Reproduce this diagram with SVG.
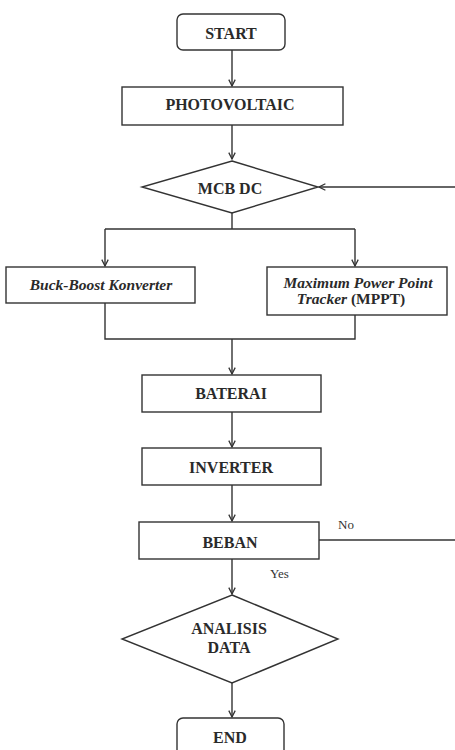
<svg xmlns="http://www.w3.org/2000/svg" width="455" height="750" viewBox="0 0 455 750">
<style>
.box{fill:#fff;stroke:#333;stroke-width:1.4}
.ln{fill:none;stroke:#333;stroke-width:1.4}
.t{font-family:"Liberation Serif","Times New Roman",serif;font-size:16px;font-weight:bold;fill:#2a2a2a;text-anchor:middle;dominant-baseline:central}
.ti{font-family:"Liberation Serif","Times New Roman",serif;font-size:15.5px;font-weight:bold;font-style:italic;fill:#2a2a2a;text-anchor:middle;dominant-baseline:central}
.s{font-family:"Liberation Serif","Times New Roman",serif;font-size:13px;fill:#333;dominant-baseline:central}
</style>
<defs>
<marker id="ah" viewBox="0 0 10 10" refX="9" refY="5" markerWidth="8" markerHeight="8" markerUnits="userSpaceOnUse" orient="auto">
<path d="M1,1 L9,5 L1,9" fill="none" stroke="#333" stroke-width="1.6"/>
</marker>
</defs>
<rect width="455" height="750" fill="#fff"/>
<g id="connectors">
<line class="ln" x1="232" y1="50" x2="232" y2="86" marker-end="url(#ah)"/>
<line class="ln" x1="232" y1="125" x2="232" y2="159" marker-end="url(#ah)"/>
<line class="ln" x1="455" y1="187" x2="319" y2="187" marker-end="url(#ah)"/>
<polyline class="ln" points="232,213 232,229"/>
<polyline class="ln" points="105,229 355,229"/>
<line class="ln" x1="105" y1="229" x2="105" y2="266" marker-end="url(#ah)"/>
<line class="ln" x1="355" y1="229" x2="355" y2="266" marker-end="url(#ah)"/>
<polyline class="ln" points="105,303 105,339 355,339 355,315"/>
<line class="ln" x1="232" y1="339" x2="232" y2="374" marker-end="url(#ah)"/>
<line class="ln" x1="232" y1="412" x2="232" y2="447" marker-end="url(#ah)"/>
<line x1="232" y1="475" x2="232" y2="485" stroke="#222" stroke-width="2.4"/>
<line class="ln" x1="232" y1="485" x2="232" y2="521" marker-end="url(#ah)"/>
<line class="ln" x1="319" y1="540" x2="455" y2="540"/>
<line class="ln" x1="232" y1="559" x2="232" y2="594" marker-end="url(#ah)"/>
<line class="ln" x1="232" y1="683" x2="232" y2="717" marker-end="url(#ah)"/>
</g>
<g id="start">
<rect class="box" x="177" y="14" width="108" height="36" rx="6"/>
<text class="t" x="231" y="33">START</text>
</g>
<g id="photovoltaic">
<rect class="box" x="122" y="87" width="221" height="38"/>
<text class="t" x="230" y="104">PHOTOVOLTAIC</text>
</g>
<g id="mcb">
<polygon class="box" points="232,161 318,187 232,213 142,187"/>
<text class="t" x="230" y="188">MCB DC</text>
</g>
<g id="buckboost">
<rect class="box" x="6" y="267" width="189" height="36"/>
<text class="ti" x="101" y="284">Buck-Boost Konverter</text>
</g>
<g id="mppt">
<rect class="box" x="267" y="267" width="180" height="48"/>
<text class="ti" x="358" y="282">Maximum Power Point</text>
<text class="ti" x="351" y="298">Tracker <tspan font-style="normal">(MPPT)</tspan></text>
</g>
<g id="baterai">
<rect class="box" x="142" y="375" width="179" height="37"/>
<text class="t" x="231" y="393">BATERAI</text>
</g>
<g id="inverter">
<rect class="box" x="142" y="448" width="179" height="37"/>
<text class="t" x="231" y="467">INVERTER</text>
</g>
<g id="beban">
<rect class="box" x="139" y="522" width="180" height="37"/>
<text class="t" x="230" y="542">BEBAN</text>
<text class="s" x="338" y="524">No</text>
<text class="s" x="270" y="573">Yes</text>
</g>
<g id="analisis">
<polygon class="box" points="232,595 338,639 232,683 122,639"/>
<text class="t" x="229" y="628">ANALISIS</text>
<text class="t" x="229" y="647">DATA</text>
</g>
<g id="end">
<rect class="box" x="177" y="718" width="107" height="42" rx="6"/>
<text class="t" x="230" y="737">END</text>
</g>
</svg>
